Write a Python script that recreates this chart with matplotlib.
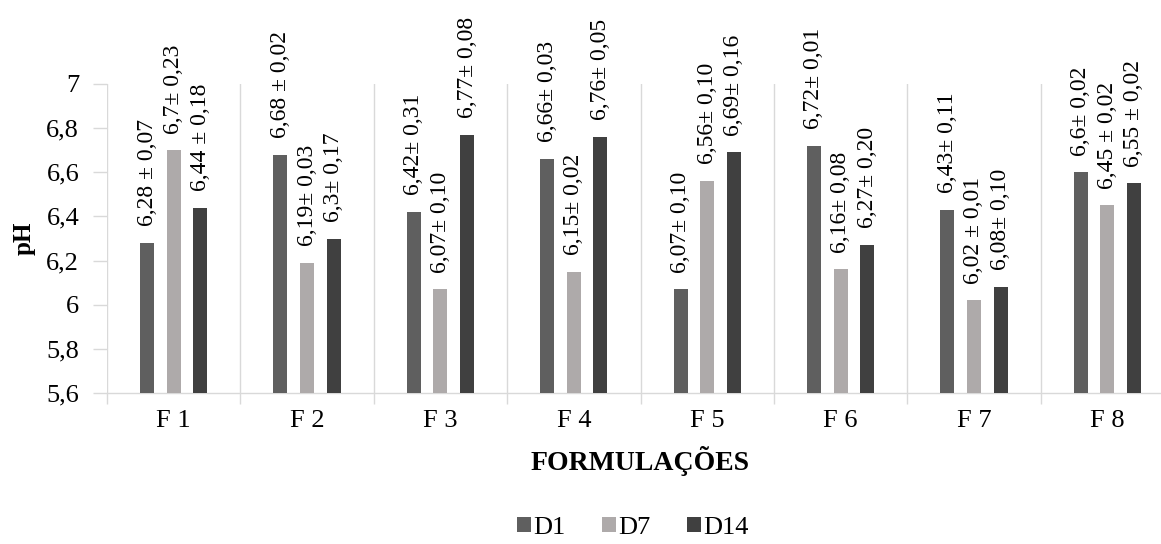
import matplotlib
matplotlib.use("Agg")
import matplotlib.pyplot as plt
import numpy as np

categories = ["F 1", "F 2", "F 3", "F 4", "F 5", "F 6", "F 7", "F 8"]
series_names = ["D1", "D7", "D14"]
d1 = [6.28, 6.68, 6.42, 6.66, 6.07, 6.72, 6.43, 6.60]
d7 = [6.70, 6.19, 6.07, 6.15, 6.56, 6.16, 6.02, 6.45]
d14 = [6.44, 6.30, 6.77, 6.76, 6.69, 6.27, 6.08, 6.55]
labels_d1 = ["6,28 ± 0,07", "6,68 ± 0,02", "6,42± 0,31", "6,66± 0,03",
             "6,07± 0,10", "6,72± 0,01", "6,43± 0,11", "6,6± 0,02"]
labels_d7 = ["6,7± 0,23", "6,19± 0,03", "6,07± 0,10", "6,15± 0,02",
             "6,56± 0,10", "6,16± 0,08", "6,02 ± 0,01", "6,45 ± 0,02"]
labels_d14 = ["6,44 ± 0,18", "6,3± 0,17", "6,77± 0,08", "6,76± 0,05",
              "6,69± 0,16", "6,27± 0,20", "6,08± 0,10", "6,55 ± 0,02"]
yticks = [5.6, 5.8, 6.0, 6.2, 6.4, 6.6, 6.8, 7.0]
ytick_labels = ["5,6", "5,8", "6", "6,2", "6,4", "6,6", "6,8", "7"]

colors = ["#5f5f5f", "#aeaaaa", "#404040"]
serif = ["Liberation Serif", "DejaVu Serif"]
plt.rcParams["font.family"] = serif

fig = plt.figure(figsize=(11.61, 5.44), dpi=100)
ax = fig.add_axes([107 / 1161, 1 - 393 / 544, (1174 - 107) / 1161, (393 - 84) / 544])

x = np.arange(len(categories))
offsets = [-0.2, 0.0, 0.2]
width = 0.105
for vals, labs, off, col, name in zip([d1, d7, d14], [labels_d1, labels_d7, labels_d14],
                                      offsets, colors, series_names):
    ax.bar(x + off, np.array(vals) - 5.6, width=width, bottom=5.6, color=col,
           label=name, zorder=3)
    for xi, v, lab in zip(x + off, vals, labs):
        ax.annotate(lab, (xi, v), xytext=(0, 12), textcoords="offset points",
                    rotation=90, ha="center", va="bottom", fontsize=17,
                    color="#000000", annotation_clip=False)

ax.set_xlim(-0.5, 7.5)
ax.set_ylim(5.6, 7.0)
ax.set_yticks(yticks)
ax.set_yticklabels(ytick_labels)
ax.set_xticks(x)
ax.set_xticklabels(categories)
ax.set_xticks(np.arange(-0.5, 8.0, 1.0), minor=True)
ax.tick_params(axis="x", which="major", length=0, labelsize=19, pad=12, colors="#000000")
ax.tick_params(axis="x", which="minor", length=8, color="#d9d9d9", width=1)
ax.tick_params(axis="y", which="major", length=10, width=1,
               labelsize=19, labelcolor="#000000", color="#d9d9d9", pad=10)
ax.grid(axis="x", which="minor", color="#d9d9d9", linewidth=1, zorder=0)
for s in ["top", "right", "left"]:
    ax.spines[s].set_visible(False)
ax.spines["bottom"].set_color("#d9d9d9")
ax.spines["bottom"].set_linewidth(1)

fig.text(24 / 1161, 1 - 238 / 544, "pH", rotation=90, ha="center", va="center",
         fontsize=18, fontweight="bold")
fig.text(640 / 1161, 1 - 461 / 544, "FORMULAÇÕES", ha="center", va="center",
         fontsize=20, fontweight="bold")

leg = fig.legend(loc="center", bbox_to_anchor=(633 / 1161, 1 - 528 / 544), ncol=3,
                 frameon=False, fontsize=19, handlelength=0.5, handleheight=0.5,
                 handletextpad=0.1, columnspacing=1.4, borderpad=0, borderaxespad=0)

fig.savefig("out.png", dpi=100)
